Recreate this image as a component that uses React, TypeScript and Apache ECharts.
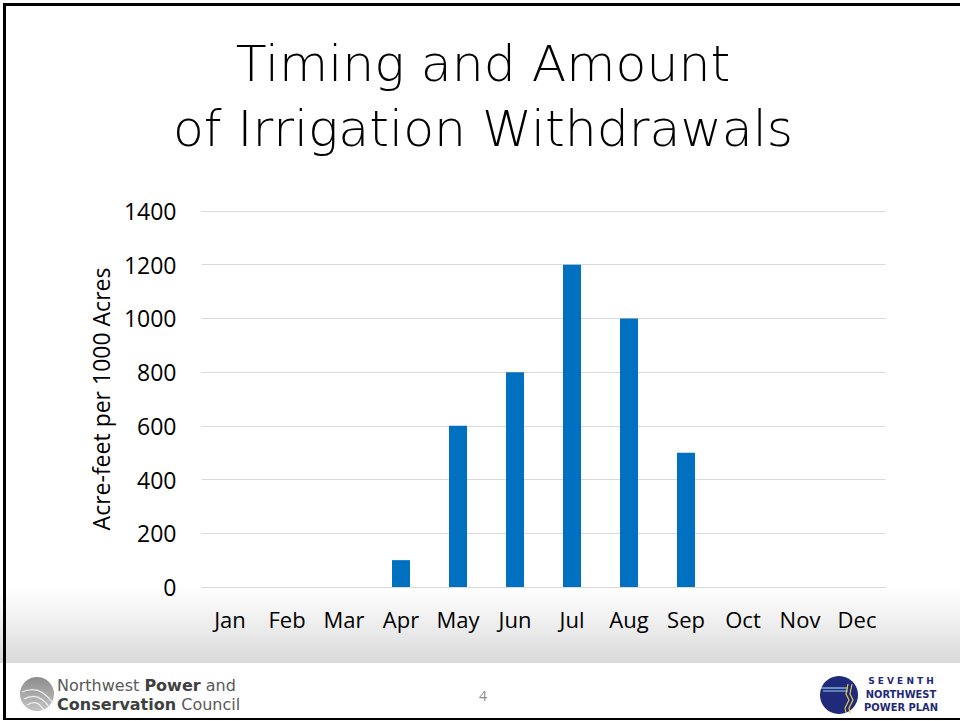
import React, { useEffect, useRef } from "react";
import * as echarts from "echarts";

const months = ["Jan", "Feb", "Mar", "Apr", "May", "Jun", "Jul", "Aug", "Sep", "Oct", "Nov", "Dec"];
const withdrawals = [0, 0, 0, 100, 600, 800, 1200, 1000, 500, 0, 0, 0];
const titleLines = ["Timing and Amount", "of Irrigation Withdrawals"];
const yAxisName = "Acre-feet per 1000 Acres";
const pageNumber = "4";

const FONT = "'Open Sans', 'Noto Sans', sans-serif";
const WIDE = "'DejaVu Sans', sans-serif";

export default function App() {
  const ref = useRef<HTMLDivElement>(null);

  useEffect(() => {
    if (!ref.current) return;
    const chart = echarts.init(ref.current, undefined, { renderer: "svg", width: 960, height: 721 });
    const richFooter = {
      n: { fontFamily: WIDE, fontSize: 16, fill: "#595959", fontWeight: 400, lineHeight: 19 },
      b: { fontFamily: WIDE, fontSize: 16, fill: "#404040", fontWeight: 700, lineHeight: 19 },
    };
    const option: any = {
      animation: false,
      grid: { left: 201.5, right: 74.5, top: 211, bottom: 134, containLabel: false },
      xAxis: {
        type: "category",
        data: months,
        axisLine: { lineStyle: { color: "#d9d9d9", width: 1 } },
        axisTick: { show: false },
        axisLabel: { interval: 0, fontFamily: FONT, fontSize: 22, color: "#000", margin: 21 },
      },
      yAxis: {
        type: "value",
        min: 0,
        max: 1400,
        interval: 200,
        name: yAxisName,
        nameLocation: "middle",
        nameGap: 74,
        nameTextStyle: { fontFamily: FONT, fontSize: 23, color: "#000" },
        axisLine: { show: false },
        axisTick: { show: false },
        axisLabel: {
          fontFamily: FONT,
          fontSize: 23,
          color: "#000",
          margin: 25,
          formatter: (v: number) => String(v),
        },
        splitLine: { lineStyle: { color: "#d9d9d9", width: 1 } },
      },
      series: [
        {
          type: "bar",
          data: withdrawals,
          barWidth: 18,
          itemStyle: { color: "#0070C0" },
        },
      ],
      graphic: [
        {
          type: "text",
          x: 483,
          y: 96,
          style: {
            text: titleLines.join("\n"),
            fontFamily: WIDE,
            fontWeight: 200,
            fontSize: 50.5,
            lineHeight: 65,
            fill: "#000",
            textAlign: "center",
            textVerticalAlign: "middle",
          },
        },
        // left logo
        {
          type: "circle",
          shape: { cx: 37, cy: 694, r: 17 },
          style: {
            fill: new echarts.graphic.LinearGradient(0, 0, 0, 1, [
              { offset: 0, color: "#8c8c8c" },
              { offset: 1, color: "#c4c4c4" },
            ]),
          },
        },
        {
          type: "bezierCurve",
          shape: { x1: 22, y1: 692, x2: 52, y2: 702, cpx1: 35, cpy1: 686, cpx2: 45, cpy2: 692 },
          style: { stroke: "#eeeeee", lineWidth: 1.2, fill: null },
        },
        {
          type: "bezierCurve",
          shape: { x1: 24, y1: 699, x2: 50, y2: 708, cpx1: 36, cpy1: 692, cpx2: 44, cpy2: 699 },
          style: { stroke: "#eeeeee", lineWidth: 1.2, fill: null },
        },
        {
          type: "bezierCurve",
          shape: { x1: 27, y1: 705, x2: 45, y2: 712, cpx1: 36, cpy1: 699, cpx2: 41, cpy2: 705 },
          style: { stroke: "#eeeeee", lineWidth: 1.2, fill: null },
        },
        {
          type: "text",
          x: 57,
          y: 694.5,
          style: {
            text: "{n|Northwest }{b|Power}{n| and}\n{b|Conservation}{n| Council}",
            textVerticalAlign: "middle",
            rich: richFooter,
          },
        },
        {
          type: "text",
          x: 483,
          y: 695,
          style: {
            text: pageNumber,
            fontFamily: FONT,
            fontSize: 14,
            fill: "#8c8c8c",
            textAlign: "center",
            textVerticalAlign: "middle",
          },
        },
        // right logo
        {
          type: "circle",
          shape: { cx: 839, cy: 695, r: 19 },
          style: { fill: "#1f2a78" },
        },
        {
          type: "line",
          shape: { x1: 821, y1: 688, x2: 848, y2: 688 },
          style: { stroke: "#9fd4f0", lineWidth: 1.2 },
        },
        {
          type: "line",
          shape: { x1: 823, y1: 691, x2: 848, y2: 691 },
          style: { stroke: "#9fd4f0", lineWidth: 1 },
        },
        {
          type: "polyline",
          shape: { points: [[848, 684], [846, 694], [849, 700], [845, 708], [846, 713]] },
          style: { stroke: "#e8c84a", lineWidth: 1.2, fill: null },
        },
        {
          type: "polyline",
          shape: { points: [[852, 684], [850, 694], [853, 700], [849, 708], [850, 713]] },
          style: { stroke: "#e8c84a", lineWidth: 1.2, fill: null },
        },
        {
          type: "text",
          x: 901,
          y: 694,
          style: {
            text: "{s|S E V E N T H}\n{b|NORTHWEST}\n{b|POWER PLAN}",
            textAlign: "center",
            textVerticalAlign: "middle",
            rich: {
              s: { fontFamily: "'DejaVu Sans'", fontWeight: 700, fontSize: 9, fill: "#1f2a78", lineHeight: 13, align: "center" },
              b: {
                fontFamily: "'DejaVu Sans Condensed', 'DejaVu Sans'",
                fontWeight: 700,
                fontSize: 11,
                fill: "#1f2a78",
                lineHeight: 13,
                align: "center",
              },
            },
          },
        },
      ],
    };
    chart.setOption(option);
    return () => chart.dispose();
  }, []);

  return (
    <div style={{ position: "fixed", left: 0, top: 0, width: 960, height: 721, background: "#fff", overflow: "hidden" }}>
      <div
        style={{
          position: "absolute",
          left: 0,
          top: 585,
          width: 960,
          height: 78,
          background: "linear-gradient(to bottom, #ffffff 0%, #f2f2f2 40%, #d9d9d9 100%)",
        }}
      />
      <div
        style={{
          position: "absolute",
          left: 3,
          top: 3,
          width: 960,
          height: 717,
          boxSizing: "border-box",
          borderTop: "3px solid #000",
          borderLeft: "3px solid #000",
          borderBottom: "2px solid #000",
        }}
      />
      <div ref={ref} style={{ position: "absolute", left: 0, top: 0, width: 960, height: 721 }} />
    </div>
  );
}
